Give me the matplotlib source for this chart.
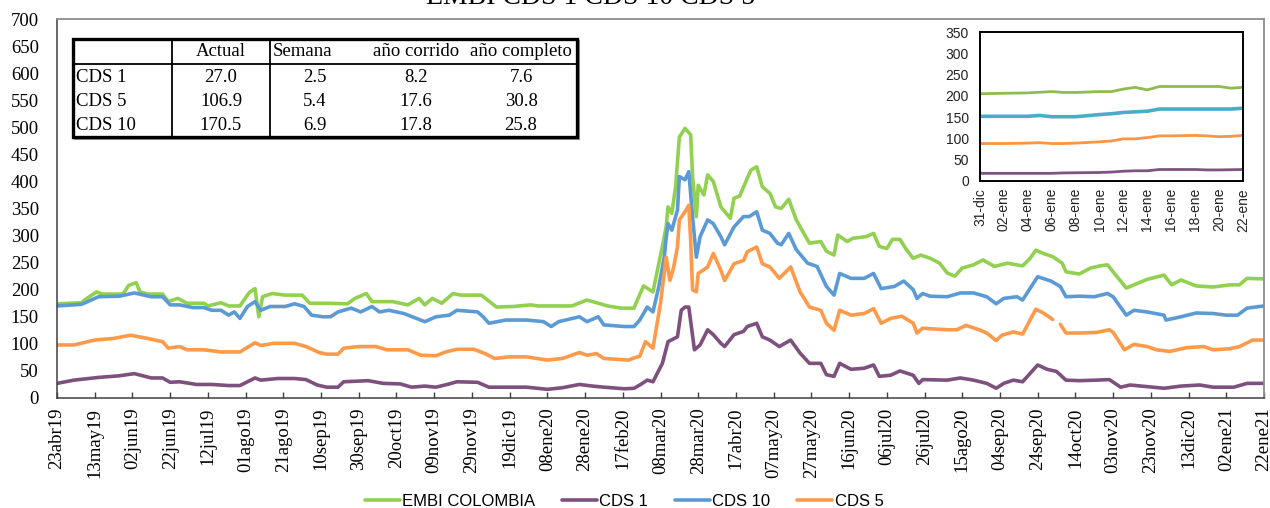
import numpy as np
import matplotlib
matplotlib.use('Agg')
import matplotlib.pyplot as plt
from matplotlib.patches import Rectangle

plt.rcParams['font.family'] = ['Liberation Serif', 'DejaVu Serif']

# ---------------- data ----------------
start = np.datetime64('2019-04-23')
end = np.datetime64('2021-01-22')

embi_day = [0, 13, 15, 21, 24, 35, 38, 42, 44, 48, 56, 59, 64, 69, 78, 80, 87, 91, 97, 102, 105, 107, 109, 114,
            121, 130, 134, 143, 154, 158, 164, 167, 178, 186, 192, 195, 199, 204, 210, 214, 225, 233, 242, 251,
            255, 273, 281, 288, 292, 299, 306, 307, 311, 316, 321, 323, 324, 326, 328, 330, 333, 336, 337, 339,
            340, 343, 345, 348, 352, 357, 359, 362, 366, 368, 371, 374, 378, 381, 384, 388, 392, 396, 399, 405,
            408, 412, 414, 419, 422, 429, 433, 436, 440, 443, 447, 450, 454, 458, 463, 468, 472, 476, 480, 486,
            491, 497, 504, 512, 516, 519, 523, 528, 533, 535, 542, 548, 553, 557, 560, 567, 571, 578, 587, 591,
            596, 604, 613, 622, 627, 631, 640]
embi_val = [174, 176, 182, 196, 192, 192, 208, 213, 196, 192, 192, 178, 184, 175, 175, 170, 176, 170, 170, 195,
            202, 150, 187, 193, 190, 190, 175, 175, 174, 184, 193, 178, 178, 172, 184, 172, 184, 175, 193, 190,
            190, 168, 169, 172, 170, 170, 181, 174, 170, 166, 166, 175, 207, 196, 280, 316, 353, 341, 390, 482,
            498, 486, 409, 335, 393, 375, 412, 400, 353, 332, 369, 373, 406, 421, 427, 390, 378, 353, 350, 367,
            329, 304, 286, 289, 271, 264, 301, 289, 295, 298, 304, 280, 276, 293, 293, 276, 258, 264, 258, 249,
            231, 225, 240, 246, 255, 243, 249, 244, 258, 273, 267, 261, 249, 233, 229, 240, 244, 246, 233, 203,
            209, 219, 227, 209, 218, 207, 205, 209, 209, 221, 220]

cds1_day = [0, 9, 22, 33, 41, 50, 56, 60, 65, 74, 82, 91, 97, 105, 108, 117, 126, 132, 138, 143, 149, 152, 165,
            173, 182, 188, 195, 201, 208, 212, 223, 229, 240, 249, 260, 268, 277, 284, 290, 301, 306, 309, 313,
            316, 321, 324, 329, 331, 333, 335, 338, 341, 345, 348, 352, 354, 359, 364, 366, 371, 374, 378, 383,
            389, 394, 399, 405, 408, 412, 415, 421, 428, 433, 436, 442, 447, 454, 457, 459, 472, 479, 486, 493,
            498, 502, 507, 512, 520, 525, 530, 535, 542, 551, 558, 564, 569, 578, 587, 596, 606, 613, 624, 631, 640]
cds1_val = [27, 33, 38, 41, 45, 37, 37, 29, 30, 25, 25, 23, 23, 37, 33, 36, 36, 34, 24, 20, 20, 30, 32, 27, 26,
            20, 22, 20, 26, 30, 29, 20, 20, 20, 16, 19, 25, 22, 20, 17, 18, 24, 33, 30, 64, 104, 113, 162, 168,
            168, 89, 98, 126, 117, 101, 95, 117, 123, 132, 138, 113, 107, 95, 107, 83, 64, 64, 43, 40, 64, 53,
            55, 61, 40, 42, 50, 42, 27, 34, 33, 37, 33, 27, 18, 27, 33, 30, 61, 53, 49, 33, 32, 33, 34, 20, 24,
            21, 18, 22, 24, 20, 20, 27, 27]

cds10_day = [0, 13, 22, 33, 41, 50, 56, 60, 65, 72, 78, 82, 87, 91, 94, 97, 101, 105, 108, 113, 121, 126, 131,
             135, 141, 145, 149, 156, 161, 167, 171, 176, 184, 195, 201, 208, 212, 223, 226, 229, 238, 249, 258,
             262, 266, 277, 281, 287, 290, 301, 306, 309, 313, 316, 319, 322, 323, 324, 326, 329, 330, 333, 335,
             337, 339, 341, 345, 348, 352, 354, 359, 364, 367, 371, 374, 378, 382, 384, 388, 392, 398, 403, 408,
             412, 415, 421, 428, 433, 437, 444, 449, 454, 456, 459, 463, 472, 479, 486, 493, 498, 502, 509, 512,
             520, 527, 532, 535, 542, 550, 557, 560, 567, 571, 578, 587, 588, 596, 604, 613, 620, 626, 631, 640]
cds10_val = [170, 173, 187, 188, 194, 187, 187, 172, 172, 167, 167, 162, 162, 153, 159, 147, 169, 178, 162, 169,
             169, 174, 169, 153, 150, 150, 159, 166, 159, 169, 159, 162, 156, 141, 150, 153, 162, 159, 150, 138,
             144, 144, 141, 132, 141, 150, 141, 150, 135, 132, 132, 144, 168, 159, 204, 260, 295, 322, 310, 347,
             409, 403, 418, 335, 260, 298, 329, 322, 298, 283, 316, 335, 335, 344, 310, 304, 286, 283, 304, 274,
             249, 243, 206, 190, 230, 221, 221, 230, 202, 206, 216, 200, 184, 193, 188, 187, 194, 194, 187, 174,
             184, 187, 181, 224, 216, 206, 187, 188, 187, 193, 187, 153, 162, 159, 153, 144, 150, 157, 156, 153,
             153, 166, 170]

cds5_day = [0, 9, 20, 30, 39, 48, 52, 56, 59, 65, 69, 78, 87, 97, 105, 108, 115, 126, 132, 139, 143, 149, 152,
            160, 169, 175, 186, 193, 201, 206, 212, 221, 227, 232, 240, 249, 260, 268, 277, 281, 286, 290, 303,
            306, 309, 312, 316, 320, 323, 325, 327, 329, 330, 333, 335, 336, 337, 339, 340, 345, 348, 352, 354,
            359, 364, 366, 371, 374, 378, 383, 389, 394, 399, 405, 408, 412, 415, 421, 428, 433, 437, 442, 448,
            454, 456, 459, 463, 472, 477, 482, 489, 493, 498, 501, 507, 512, 519, 523, 528, 530, 532, 535, 542,
            551, 558, 560, 566, 571, 578, 583, 590, 599, 608, 613, 622, 627, 634, 640]
cds5_val = [98, 98, 107, 110, 116, 110, 107, 104, 92, 95, 89, 89, 85, 85, 102, 97, 101, 101, 95, 84, 81, 81, 92,
            95, 95, 89, 89, 79, 78, 85, 90, 90, 82, 73, 76, 76, 70, 73, 84, 79, 82, 73, 70, 74, 77, 104, 92, 175,
            260, 217, 242, 279, 329, 344, 356, 290, 200, 196, 230, 242, 267, 236, 217, 248, 254, 270, 279, 248,
            242, 221, 242, 196, 168, 162, 138, 125, 162, 153, 156, 165, 138, 147, 151, 138, 120, 129, 128, 126,
            126, 134, 126, 120, 106, 116, 122, 118, 164, 157, 145, np.nan, 136, 120, 120, 121, 126, 121, 89, 99,
            95, 89, 86, 93, 95, 89, 91, 95, 107, 107]

series_names = ['EMBI COLOMBIA', 'CDS 1', 'CDS 10', 'CDS 5']

xtick_labels = ['23abr19', '13may19', '02jun19', '22jun19', '12jul19', '01ago19', '21ago19', '10sep19',
                '30sep19', '20oct19', '09nov19', '29nov19', '19dic19', '08ene20', '28ene20', '17feb20',
                '08mar20', '28mar20', '17abr20', '07may20', '27may20', '16jun20', '06jul20', '26jul20',
                '15ago20', '04sep20', '24sep20', '14oct20', '03nov20', '23nov20', '13dic20', '02ene21', '22ene21']

# inset (31-dic-2020 .. 22-ene-2021)
in_start = np.datetime64('2020-12-31')
in_embi_day = [0, 2, 4, 6, 7, 8, 10, 11, 12, 13, 14, 15, 16, 18, 20, 21, 22]
in_embi_val = [205, 206, 207, 210, 208, 208, 210, 210, 216, 220, 214, 222, 222, 222, 222, 218, 220]
in_cds10_day = [0, 2, 4, 5, 6, 8, 10, 11, 12, 14, 15, 16, 18, 20, 21, 22]
in_cds10_val = [152, 152, 152, 154, 151, 151, 156, 158, 161, 164, 169, 169, 169, 169, 169, 171]
in_cds5_day = [0, 2, 4, 5, 6, 7, 8, 10, 11, 12, 13, 14, 15, 16, 18, 19, 20, 21, 22]
in_cds5_val = [88, 88, 89, 90, 88, 88, 89, 92, 94, 99, 99, 102, 106, 106, 107, 106, 104, 105, 107]
in_cds1_day = [0, 4, 6, 7, 10, 11, 12, 13, 14, 15, 16, 18, 19, 20, 22]
in_cds1_val = [18, 18, 18, 19, 20, 21, 23, 24, 24, 27, 27, 27, 26, 26, 27]
in_xtick_labels = ['31-dic', '02-ene', '04-ene', '06-ene', '08-ene', '10-ene', '12-ene', '14-ene',
                   '16-ene', '18-ene', '20-ene', '22-ene']

# table
table_rows = ['CDS 1', 'CDS 5', 'CDS 10']
table_cols = ['Actual', 'Semana', 'año corrido', 'año completo']
tab_actual = [27.0, 106.9, 170.5]
tab_semana = [2.5, 5.4, 6.9]
tab_corrido = [8.2, 17.6, 17.8]
tab_completo = [7.6, 30.8, 25.8]

# colours
c_embi, c_cds1, c_cds10, c_cds5 = '#92D050', '#7D507D', '#5B9BD5', '#FF9A4A'
ci_embi, ci_cds1, ci_cds10, ci_cds5 = '#8DBB4E', '#7E5380', '#4BACC6', '#F79646'

W, H = 1270, 508
fig = plt.figure(figsize=(W / 100, H / 100), dpi=100)

# ---------------- main axes ----------------
ax = fig.add_axes([57 / W, 1 - 398 / H, 1207 / W, 379 / H])
lw = 2.6
for d, v, c, n in [(embi_day, embi_val, c_embi, series_names[0]),
                   (cds1_day, cds1_val, c_cds1, series_names[1]),
                   (cds10_day, cds10_val, c_cds10, series_names[2]),
                   (cds5_day, cds5_val, c_cds5, series_names[3])]:
    ax.plot(start + np.array(d).astype('timedelta64[D]'), v, color=c, lw=lw, label=n,
            solid_joinstyle='round', solid_capstyle='round')

ax.set_xlim(start, end)
ax.set_ylim(0, 700)
ax.set_yticks(np.arange(0, 701, 50))
xt = start + np.arange(len(xtick_labels)) * np.timedelta64(20, 'D')
ax.set_xticks(xt)
ax.set_xticklabels(xtick_labels, rotation=90, fontsize=13.5)
ax.tick_params(axis='x', direction='in', length=4.5, width=1, color='#404040', pad=7)
ax.tick_params(axis='y', length=0, pad=13, labelsize=13.5)
for s in ['left', 'bottom']:
    ax.spines[s].set_color('#404040')
    ax.spines[s].set_linewidth(1.1)
for s in ['top', 'right']:
    ax.spines[s].set_color('#8C8C8C')
    ax.spines[s].set_linewidth(1.3)

# legend
handles, labels = ax.get_legend_handles_labels()
fig.legend(handles, labels, loc='center', bbox_to_anchor=(624 / W, 1 - 501 / H), ncol=4, frameon=False,
           prop={'family': 'Liberation Sans', 'size': 12}, handlelength=2.1, handletextpad=0.15,
           columnspacing=1.6, borderaxespad=0)

# title (cut at top in the reference)
fig.text(591 / W, 1 - 4 / H, 'EMBI CDS 1 CDS 10 CDS 5', ha='center', va='baseline', fontsize=20,
         family=['Liberation Serif'])

# ---------------- inset ----------------
axi = fig.add_axes([980 / W, 1 - 181 / H, 263 / W, 149 / H])
for d, v, c, w in [(in_embi_day, in_embi_val, ci_embi, 2.0),
                   (in_cds1_day, in_cds1_val, ci_cds1, 2.0),
                   (in_cds10_day, in_cds10_val, ci_cds10, 2.6),
                   (in_cds5_day, in_cds5_val, ci_cds5, 2.0)]:
    axi.plot(in_start + np.array(d).astype('timedelta64[D]'), v, color=c, lw=w)
axi.set_xlim(in_start, in_start + np.timedelta64(22, 'D'))
axi.set_ylim(0, 350)
axi.set_yticks(np.arange(0, 351, 50))
axi.set_xticks(in_start + np.arange(len(in_xtick_labels)) * np.timedelta64(2, 'D'))
axi.set_xticklabels(in_xtick_labels, rotation=90)
for lab in axi.get_xticklabels() + axi.get_yticklabels():
    lab.set_family(['Liberation Sans'])
    lab.set_fontsize(10)
    lab.set_color('#222222')
axi.tick_params(axis='both', length=0)
axi.tick_params(axis='y', pad=8)
axi.tick_params(axis='x', pad=5)
for s in axi.spines.values():
    s.set_color('black')
    s.set_linewidth(1.4)

# ---------------- table ----------------
axt = fig.add_axes([0, 0, 1, 1], zorder=5)
axt.set_xlim(0, W)
axt.set_ylim(H, 0)
axt.axis('off')
axt.add_patch(Rectangle((75, 41), 504, 98, facecolor='none', edgecolor='#9a9a9a', lw=1.5))
axt.add_patch(Rectangle((73, 39), 504, 98, facecolor='white', edgecolor='black', lw=2.4))
axt.plot([73, 577], [64, 64], color='black', lw=1.3)
axt.plot([172, 172], [39, 137], color='black', lw=1.3)
axt.plot([270, 270], [39, 137], color='black', lw=1.3)
tfs = 13.5
hdr_y = 52
axt.text(221, hdr_y, table_cols[0], ha='center', va='center', fontsize=tfs)
axt.text(273, hdr_y, table_cols[1], ha='left', va='center', fontsize=tfs)
axt.text(416, hdr_y, table_cols[2], ha='center', va='center', fontsize=tfs)
axt.text(521, hdr_y, table_cols[3], ha='center', va='center', fontsize=tfs)
row_y = [77, 101, 125]
for i, r in enumerate(table_rows):
    y = row_y[i]
    axt.text(76, y, r, ha='left', va='center', fontsize=tfs)
    axt.text(221, y, f'{tab_actual[i]:.1f}', ha='center', va='center', fontsize=tfs)
    axt.text(315, y, f'{tab_semana[i]:.1f}', ha='center', va='center', fontsize=tfs)
    axt.text(416, y, f'{tab_corrido[i]:.1f}', ha='center', va='center', fontsize=tfs)
    axt.text(521, y, f'{tab_completo[i]:.1f}', ha='center', va='center', fontsize=tfs)

fig.savefig('out.png', dpi=100)
